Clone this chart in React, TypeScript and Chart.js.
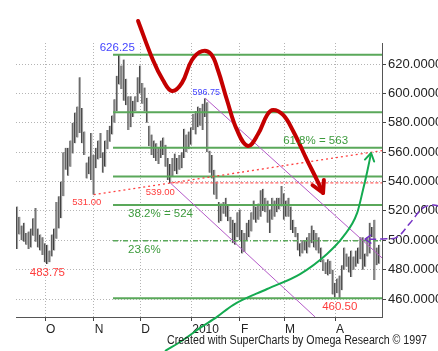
import React, { useEffect, useRef } from "react";
import { Chart, registerables } from "chart.js";

Chart.register(...registerables);

// ---------- price bars (daily high / low), index 0 = mid-Sept 2009 ----------
const HIGHS = [
  523, 516, 510, 512, 505, 506, 508, 515, 522, 508,
  504, 502, 498, 497, 493, 504, 508, 526, 530, 540,
  560, 563, 563, 568, 580, 587, 591, 611, 590, 574,
  553, 557, 573, 558, 563, 568, 573, 560, 568, 575,
  578, 585, 596, 612, 626.25, 619, 623, 610, 598, 598,
  595, 598, 611, 619, 607, 604, 597, 578, 572, 568,
  566, 563, 568, 570, 565, 556, 552, 556, 559, 556,
  558, 560, 576, 572, 574, 577, 586, 588, 591, 590,
  593, 596.75, 594, 561, 558, 548, 540, 526, 525, 526,
  529, 524, 516, 514, 512, 519, 521, 507, 505, 512,
  514, 519, 527, 523, 525, 534, 535, 529, 527, 521,
  529, 527, 529, 529, 537, 532, 527, 529, 523, 514,
  509, 505, 498, 500, 500, 502, 505, 510, 507, 505,
  502, 495, 487, 485, 487, 486, 480, 471, 474, 476,
  483, 495, 491, 489, 493, 489, 493, 495, 502, 502,
  491, 502, 512, 509, 514, 495, 497,
];
const LOWS = [
  494, 504, 500, 499, 497, 494, 495, 503, 499, 495,
  493, 490, 485, 483.75, 485, 489, 493, 501, 508, 515,
  530, 548, 544, 550, 559, 566, 570, 573, 566, 558,
  542, 545, 541, 531, 549, 555, 556, 546, 550, 562,
  567, 572, 580, 588, 606, 603, 595, 592, 575, 577,
  584, 588, 594, 600, 593, 588, 580, 564, 558, 556,
  554, 552, 556, 558, 550, 541, 539, 543, 547, 545,
  548, 549, 556, 560, 562, 565, 575, 572, 577, 578,
  575, 584, 560, 546, 542, 531, 528, 512, 513, 518,
  516, 513, 505, 498, 497, 502, 500, 491, 492, 500,
  502, 506, 514, 512, 514, 516, 520, 519, 512, 505,
  514, 516, 519, 521, 523, 514, 516, 516, 507, 505,
  502, 493, 489, 491, 493, 491, 495, 498, 495, 493,
  491, 485, 479, 477, 476, 477, 463, 461, 464, 460.5,
  466, 480, 482, 478, 475, 480, 482, 484, 487, 480,
  482, 489, 491, 502, 473, 483, 484,
];

// ---------- axes ----------
const MONTH_TICKS = [12, 33, 53, 75, 96, 115, 137];
const MONTH_LABELS = ["O", "N", "D", "2010", "F", "M", "A"];
const PRICE_TICKS = [460, 480, 500, 520, 540, 560, 580, 600, 620];
const X_MIN = -0.5;
const X_MAX = 157.2;
const Y_MIN = 447.75;
const Y_MAX = 634.3;

// ---------- Fibonacci retracement (626.25 -> 460.50) ----------
const FIB_START = 41.3;
const FIB_LEVELS = [626.25, 587.1, 563, 543.4, 524, 460.5];
const FIB_236 = 499.6;

// ---------- trend / channel lines (x = bar index, y = price) ----------
const TREND_X = [33, 157.2];
const TREND_Y = [531, 561];
const LEVEL_539_X = [66, 157.2];
const LEVEL_539_Y = [539, 539];
const CHANNEL_A_X = [81, 157.2];
const CHANNEL_A_Y = [596.75, 488];
const CHANNEL_B_X = [66, 128.4];
const CHANNEL_B_Y = [539, 447.75];

// ---------- hand-drawn projection curves ----------
const RED_WAVE_X = [52.1, 58.5, 62.8, 66.7, 71.0, 75.3, 79.7, 83.5, 86.5, 90.4, 94.7, 99.4, 103.8, 107.7, 110.3, 114.6, 118.9, 124.9, 129.2, 131.8];
const RED_WAVE_Y = [649.3, 622.7, 609.1, 601.6, 607.1, 622.7, 628.8, 626.8, 615.9, 595.5, 575.1, 564.2, 572.3, 585.3, 588.7, 585.3, 574.4, 554.6, 541.0, 532.2];
const GREEN_CURVE_X = [63.7, 71.5, 78.8, 86.1, 93.0, 107.7, 121.9, 133.5, 140.4, 146.5, 149.0, 150.8, 152.5];
const GREEN_CURVE_Y = [424.6, 432.1, 440.3, 447.8, 455.9, 466.8, 477.0, 490.7, 502.3, 518.6, 534.2, 546.5, 559.4];
// drawn from the far right back to the arrow tip
const PURPLE_ARC_X = [181.8, 179.2, 174.9, 169.3, 163.7, 157.7, 149.9];
const PURPLE_ARC_Y = [523.3, 524.0, 522.0, 511.8, 502.2, 500.9, 500.7];

// ---------- text annotations ----------
const NOTE_TEXTS = ["626.25", "596.75", "531.00", "539.00", "483.75", "460.50", "61.8% = 563", "38.2% = 524", "23.6%"];
const NOTE_X = [44, 81, 33, 66, 13, 139, 114.6, 47.8, 47.8];
const NOTE_Y = [626.25, 596.75, 531, 539, 483.75, 460.5, 563, 524, FIB_236];
const CREDIT = "Created with SuperCharts by Omega Research \u00a9 1997";

const FONT = "'Liberation Sans', Arial, Helvetica, sans-serif";
const BLUE = "#4444ff";
const RED = "#ff3c3c";
const GREEN_TXT = "#3d9b3d";
const FIB_GREEN = "#5aa85a";

// styling for each note (same order as NOTE_TEXTS)
const NOTE_STYLE = [
  { color: BLUE, size: 11.5, align: "center", base: "bottom", dx: -2, dy: -1 },
  { color: BLUE, size: 9, align: "center", base: "bottom", dx: 1, dy: -1 },
  { color: RED, size: 9.5, align: "center", base: "top", dx: -7, dy: 3 },
  { color: RED, size: 9.5, align: "center", base: "top", dx: -10, dy: 5 },
  { color: RED, size: 11.5, align: "center", base: "top", dx: 0, dy: 3 },
  { color: RED, size: 11.5, align: "center", base: "top", dx: 0, dy: 3 },
  { color: GREEN_TXT, size: 11.5, align: "left", base: "bottom", dx: 0, dy: -1 },
  { color: GREEN_TXT, size: 11.5, align: "left", base: "top", dx: 0, dy: 3 },
  { color: GREEN_TXT, size: 11.5, align: "left", base: "top", dx: 0, dy: 3 },
];

function pts(xs: number[], ys: number[]) {
  return xs.map((x, i) => ({ x, y: ys[i] }));
}

const annotationPlugin = {
  id: "annotations",
  afterDatasetsDraw(chart: any) {
    const { ctx } = chart;
    const xs = chart.scales.x;
    const ys = chart.scales.y;
    chart.data.datasets.forEach((ds: any, di: number) => {
      const arrow = ds.arrow;
      if (!arrow) return;
      const p = chart.getDatasetMeta(di).data;
      const tip = arrow.at === "end" ? p[p.length - 1] : p[0];
      const from = arrow.at === "end" ? p[p.length - 2] : p[1];
      const ang = Math.atan2(tip.y - from.y, tip.x - from.x);
      ctx.save();
      ctx.strokeStyle = ds.borderColor;
      ctx.lineWidth = arrow.width;
      ctx.lineCap = "round";
      ctx.lineJoin = "round";
      ctx.setLineDash([]);
      ctx.beginPath();
      ctx.moveTo(tip.x - arrow.len * Math.cos(ang - arrow.spread), tip.y - arrow.len * Math.sin(ang - arrow.spread));
      ctx.lineTo(tip.x, tip.y);
      ctx.lineTo(tip.x - arrow.len * Math.cos(ang + arrow.spread), tip.y - arrow.len * Math.sin(ang + arrow.spread));
      ctx.stroke();
      ctx.restore();
    });
    ctx.save();
    NOTE_TEXTS.forEach((t, i) => {
      const st = NOTE_STYLE[i];
      ctx.font = `${st.size}px ${FONT}`;
      ctx.fillStyle = st.color;
      ctx.textAlign = st.align;
      ctx.textBaseline = st.base;
      ctx.fillText(t, xs.getPixelForValue(NOTE_X[i]) + st.dx, ys.getPixelForValue(NOTE_Y[i]) + st.dy);
    });
    ctx.restore();
  },
  afterDraw(chart: any) {
    const { ctx } = chart;
    ctx.save();
    ctx.font = `12px ${FONT}`;
    ctx.fillStyle = "#222";
    ctx.textAlign = "left";
    ctx.textBaseline = "alphabetic";
    ctx.fillText(CREDIT, 167, 344, 260);
    ctx.restore();
  },
};

export default function App() {
  const ref = useRef<HTMLCanvasElement>(null);

  useEffect(() => {
    const line = (data: any[], extra: any) => ({
      type: "line",
      data,
      pointRadius: 0,
      pointHoverRadius: 0,
      fill: false,
      clip: false,
      ...extra,
    });

    const datasets: any[] = [
      {
        type: "bar",
        data: HIGHS.map((h, i) => ({ x: i, y: [LOWS[i], h] })),
        backgroundColor: "#9c9c9c",
        borderColor: "#3a3a3a",
        borderWidth: { left: 1, right: 0, top: 0, bottom: 0 },
        borderSkipped: false,
        barThickness: 2,
        grouped: false,
        order: 20,
      },
      ...FIB_LEVELS.map((v) =>
        line([{ x: FIB_START, y: v }, { x: X_MAX, y: v }], { borderColor: FIB_GREEN, borderWidth: 2, order: 15, clip: 0 })
      ),
      line([{ x: FIB_START, y: FIB_236 }, { x: X_MAX, y: FIB_236 }], {
        borderColor: FIB_GREEN, borderWidth: 1.5, borderDash: [5, 2, 1, 2], order: 15, clip: 0,
      }),
      line(pts(LEVEL_539_X, LEVEL_539_Y), { borderColor: "#ff6060", borderWidth: 1.2, borderDash: [3, 2], order: 12, clip: 0 }),
      line(pts(TREND_X, TREND_Y), { borderColor: "#ff4040", borderWidth: 1.3, borderDash: [2, 3], order: 12, clip: 0 }),
      line(pts(CHANNEL_A_X, CHANNEL_A_Y), { borderColor: "#b45ac8", borderWidth: 1, order: 11, clip: 0 }),
      line(pts(CHANNEL_B_X, CHANNEL_B_Y), { borderColor: "#b45ac8", borderWidth: 1, order: 11, clip: 0 }),
      line(pts(GREEN_CURVE_X, GREEN_CURVE_Y), {
        borderColor: "#14aa50", borderWidth: 2, cubicInterpolationMode: "monotone", order: 5,
        arrow: { at: "end", len: 9, spread: 0.55, width: 2 },
      }),
      line(pts(PURPLE_ARC_X, PURPLE_ARC_Y), {
        borderColor: "#7432c4", borderWidth: 1.5, borderDash: [7, 4], tension: 0.4, order: 5,
        arrow: { at: "end", len: 7, spread: 0.6, width: 1.5 },
      }),
      line(pts(RED_WAVE_X, RED_WAVE_Y), {
        borderColor: "#c40000", borderWidth: 4, tension: 0.4, order: 1,
        borderCapStyle: "round", borderJoinStyle: "round",
        arrow: { at: "end", len: 13, spread: 0.5, width: 4 },
      }),
    ];

    const chart = new Chart(ref.current as HTMLCanvasElement, {
      type: "bar",
      data: { datasets },
      options: {
        responsive: false,
        animation: false,
        events: [],
        layout: { padding: { left: 16, top: 43, right: 0, bottom: 0 } },
        plugins: { legend: { display: false }, tooltip: { enabled: false } },
        scales: {
          x: {
            type: "linear",
            position: "bottom",
            min: X_MIN,
            max: X_MAX,
            offset: false,
            afterBuildTicks: (s: any) => {
              s.ticks = MONTH_TICKS.map((v) => ({ value: v }));
            },
            afterFit: (s: any) => {
              s.height = 34;
            },
            ticks: {
              autoSkip: false,
              maxRotation: 0,
              align: "start",
              labelOffset: 1,
              padding: 1,
              color: "#222",
              font: { family: FONT, size: 12 },
              callback: (v: any) => {
                const k = MONTH_TICKS.indexOf(Number(v));
                return k >= 0 ? MONTH_LABELS[k] : "";
              },
            },
            grid: { offset: false, color: "#b4b4b4", lineWidth: 1, tickColor: "#444", tickLength: 4, tickBorderDash: [] },
            border: { display: true, color: "#555", width: 1, dash: [1, 2] },
          },
          y: {
            type: "linear",
            position: "right",
            min: Y_MIN,
            max: Y_MAX,
            beginAtZero: false,
            afterBuildTicks: (s: any) => {
              s.ticks = PRICE_TICKS.map((v) => ({ value: v }));
            },
            afterFit: (s: any) => {
              s.width = 56;
            },
            ticks: {
              padding: 2,
              color: "#222",
              font: { family: FONT, size: 13 },
              callback: (v: any) => Number(v).toFixed(4),
            },
            grid: { color: "#b4b4b4", lineWidth: 1, tickColor: "#444", tickLength: 4, tickBorderDash: [] },
            border: { display: true, color: "#555", width: 1, dash: [1, 2] },
          },
        },
      } as any,
      plugins: [annotationPlugin],
    } as any);
    return () => chart.destroy();
  }, []);

  return (
    <div style={{ position: "fixed", left: 0, top: 0, width: 438, height: 351, background: "#ffffff" }}>
      <canvas ref={ref} width={438} height={351} style={{ display: "block", width: 438, height: 351 }} />
    </div>
  );
}
